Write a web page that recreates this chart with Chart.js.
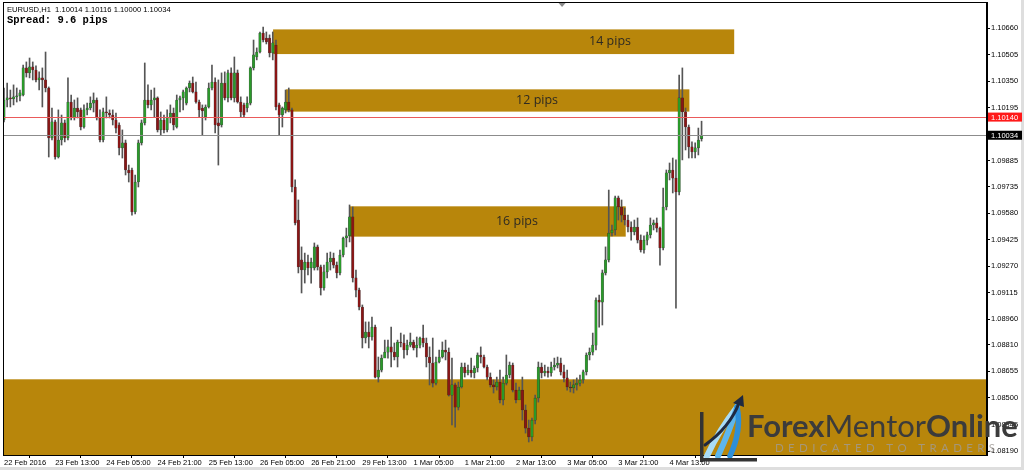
<!DOCTYPE html>
<html><head><meta charset="utf-8">
<script src="https://cdn.jsdelivr.net/npm/chart.js@4.4.1/dist/chart.umd.min.js"></script>
<style>html,body{margin:0;padding:0;background:#fff;overflow:hidden}canvas{display:block}</style>
</head><body>
<canvas id="c" width="1024" height="470"></canvas>
<script>
const symbol = 'EURUSD', timeframe = 'H1', spreadPips = 9.6;

const opens = [
1.10123,1.10240,1.10252,1.10246,1.10258,1.10263,1.10269,1.10427,1.10398,1.10433,
1.10415,1.10357,1.10369,1.10357,1.10310,1.10018,1.10112,1.09907,1.10006,1.10106,
1.10018,1.10228,1.10135,1.10193,1.10182,1.10082,1.10182,1.10193,1.10222,1.10240,
1.10135,1.10006,1.10170,1.10164,1.10152,1.10123,1.10094,1.09960,1.09989,1.09831,
1.09831,1.09586,1.09761,1.09989,1.10106,1.10240,1.10211,1.10240,1.10252,1.10065,
1.10123,1.10065,1.10135,1.10164,1.10082,1.10240,1.10252,1.10222,1.10310,1.10339,
1.10287,1.10228,1.10193,1.10141,1.10199,1.10310,1.10345,1.10106,1.10094,1.10339,
1.10252,1.10398,1.10252,1.10398,1.10228,1.10211,1.10193,1.10222,1.10427,1.10491,
1.10520,1.10631,1.10602,1.10602,1.10514,1.10561,1.10211,1.10152,1.10182,1.10228,
1.10182,1.09732,1.09539,1.09306,1.09247,1.09294,1.09259,1.09259,1.09382,1.09265,
1.09142,1.09236,1.09294,1.09317,1.09276,1.09230,1.09335,1.09434,1.09446,1.09557,
1.09201,1.09130,1.09031,1.08850,1.08885,1.08856,1.08914,1.08622,1.08663,1.08733,
1.08768,1.08798,1.08768,1.08739,1.08827,1.08821,1.08780,1.08809,1.08827,1.08792,
1.08809,1.08850,1.08821,1.08739,1.08704,1.08587,1.08710,1.08739,1.08780,1.08768,
1.08517,1.08576,1.08447,1.08564,1.08681,1.08646,1.08663,1.08646,1.08675,1.08751,
1.08739,1.08681,1.08622,1.08576,1.08564,1.08593,1.08488,1.08587,1.08634,1.08692,
1.08546,1.08488,1.08546,1.08430,1.08324,1.08272,1.08371,1.08500,1.08681,1.08646,
1.08657,1.08646,1.08681,1.08692,1.08704,1.08652,1.08617,1.08564,1.08558,1.08576,
1.08587,1.08605,1.08652,1.08751,1.08768,1.08809,1.09072,1.09060,1.09230,1.09306,
1.09463,1.09481,1.09668,1.09615,1.09568,1.09539,1.09498,1.09469,1.09498,1.09422,
1.09364,1.09422,1.09452,1.09510,1.09522,1.09492,1.09376,1.09615,1.09814,1.09831,
1.09784,1.09703,1.10252,1.10170,1.10082,1.09966,1.09936,1.09960,1.10014];

const highs = [
1.10310,1.10339,1.10298,1.10328,1.10310,1.10298,1.10444,1.10462,1.10485,1.10462,
1.10439,1.10404,1.10427,1.10520,1.10316,1.10193,1.10123,1.10182,1.10152,1.10123,
1.10369,1.10269,1.10240,1.10252,1.10193,1.10211,1.10222,1.10258,1.10281,1.10252,
1.10182,1.10193,1.10258,1.10182,1.10182,1.10164,1.10106,1.10065,1.10006,1.09860,
1.09843,1.09802,1.10006,1.10123,1.10456,1.10328,1.10298,1.10310,1.10258,1.10170,
1.10152,1.10182,1.10211,1.10193,1.10269,1.10263,1.10298,1.10316,1.10351,1.10374,
1.10345,1.10240,1.10211,1.10211,1.10339,1.10444,1.10369,1.10357,1.10398,1.10404,
1.10415,1.10427,1.10491,1.10415,1.10258,1.10222,1.10258,1.10433,1.10590,1.10544,
1.10637,1.10666,1.10637,1.10620,1.10637,1.10590,1.10222,1.10199,1.10298,1.10310,
1.10193,1.09773,1.09656,1.09382,1.09346,1.09335,1.09317,1.09405,1.09393,1.09276,
1.09276,1.09346,1.09352,1.09346,1.09294,1.09364,1.09440,1.09492,1.09627,1.09615,
1.09247,1.09142,1.09043,1.08944,1.08944,1.08973,1.08926,1.08739,1.08751,1.08838,
1.08838,1.08914,1.08821,1.08838,1.08879,1.08868,1.08838,1.08879,1.08838,1.08856,
1.08856,1.08926,1.08850,1.08798,1.08850,1.08739,1.08780,1.08827,1.08838,1.08792,
1.08733,1.08587,1.08593,1.08704,1.08704,1.08692,1.08733,1.08687,1.08763,1.08798,
1.08751,1.08692,1.08646,1.08605,1.08622,1.08663,1.08622,1.08751,1.08710,1.08704,
1.08587,1.08564,1.08622,1.08459,1.08371,1.08383,1.08517,1.08710,1.08704,1.08692,
1.08681,1.08710,1.08733,1.08739,1.08733,1.08692,1.08663,1.08593,1.08605,1.08617,
1.08634,1.08663,1.08763,1.08792,1.08879,1.09084,1.09101,1.09247,1.09382,1.09714,
1.09510,1.09679,1.09679,1.09656,1.09609,1.09568,1.09528,1.09539,1.09551,1.09452,
1.09446,1.09469,1.09551,1.09539,1.09551,1.09498,1.09726,1.09831,1.09872,1.09901,
1.09890,1.10386,1.10427,1.10193,1.10094,1.09995,1.09989,1.10076,1.10116];

const lows = [
1.10112,1.10199,1.10199,1.10211,1.10228,1.10234,1.10263,1.10374,1.10369,1.10357,
1.10345,1.10298,1.10199,1.10287,1.09907,1.10006,1.09895,1.09901,1.09977,1.09995,
1.10006,1.10123,1.10123,1.10135,1.10065,1.10076,1.10152,1.10182,1.10170,1.10123,
1.09995,1.09995,1.10135,1.10135,1.10094,1.10047,1.09919,1.09901,1.09802,1.09761,
1.09568,1.09574,1.09732,1.09977,1.10094,1.10193,1.10182,1.10141,1.10053,1.10036,
1.10047,1.10053,1.10106,1.10065,1.10076,1.10170,1.10182,1.10211,1.10287,1.10281,
1.10222,1.10141,1.10036,1.10123,1.10193,1.10298,1.10047,1.09860,1.10082,1.10240,
1.10228,1.10240,1.10228,1.10222,1.10141,1.10141,1.10170,1.10211,1.10415,1.10474,
1.10514,1.10579,1.10567,1.10491,1.10474,1.10182,1.10036,1.10082,1.10164,1.10170,
1.09703,1.09510,1.09230,1.09113,1.09171,1.09218,1.09171,1.09247,1.09247,1.09101,
1.09130,1.09201,1.09247,1.09259,1.09201,1.09218,1.09323,1.09382,1.09411,1.09177,
1.09090,1.09014,1.08792,1.08821,1.08792,1.08838,1.08617,1.08593,1.08652,1.08739,
1.08733,1.08681,1.08722,1.08681,1.08798,1.08733,1.08751,1.08798,1.08780,1.08739,
1.08792,1.08798,1.08681,1.08576,1.08564,1.08576,1.08704,1.08733,1.08722,1.08511,
1.08342,1.08330,1.08430,1.08558,1.08622,1.08634,1.08622,1.08617,1.08652,1.08704,
1.08675,1.08605,1.08564,1.08529,1.08546,1.08471,1.08459,1.08576,1.08617,1.08535,
1.08471,1.08506,1.08371,1.08295,1.08243,1.08249,1.08348,1.08476,1.08617,1.08628,
1.08622,1.08628,1.08663,1.08675,1.08634,1.08593,1.08546,1.08535,1.08529,1.08546,
1.08570,1.08587,1.08634,1.08722,1.08751,1.08780,1.08914,1.08926,1.09218,1.09294,
1.09446,1.09452,1.09539,1.09528,1.09510,1.09469,1.09422,1.09452,1.09405,1.09352,
1.09346,1.09393,1.09434,1.09481,1.09469,1.09276,1.09364,1.09598,1.09773,1.09697,
1.09025,1.09685,1.09890,1.09948,1.09901,1.09901,1.09901,1.09919,1.10000];

const closes = [
1.10240,1.10252,1.10246,1.10258,1.10263,1.10281,1.10427,1.10398,1.10433,1.10415,
1.10357,1.10369,1.10357,1.10310,1.10018,1.10112,1.09907,1.10006,1.10106,1.10018,
1.10228,1.10135,1.10193,1.10170,1.10082,1.10182,1.10193,1.10222,1.10240,1.10135,
1.10006,1.10170,1.10164,1.10152,1.10123,1.10076,1.09960,1.09989,1.09831,1.09814,
1.09586,1.09761,1.09989,1.10106,1.10240,1.10211,1.10240,1.10252,1.10065,1.10123,
1.10065,1.10135,1.10164,1.10094,1.10240,1.10252,1.10287,1.10310,1.10339,1.10287,
1.10228,1.10182,1.10176,1.10199,1.10310,1.10345,1.10094,1.10088,1.10339,1.10252,
1.10398,1.10252,1.10398,1.10228,1.10170,1.10152,1.10222,1.10427,1.10503,1.10520,
1.10631,1.10590,1.10579,1.10514,1.10573,1.10199,1.10152,1.10193,1.10228,1.10182,
1.09732,1.09522,1.09265,1.09247,1.09294,1.09259,1.09294,1.09382,1.09265,1.09142,
1.09236,1.09294,1.09317,1.09276,1.09230,1.09335,1.09434,1.09446,1.09557,1.09201,
1.09130,1.09031,1.08850,1.08885,1.08856,1.08914,1.08622,1.08663,1.08733,1.08768,
1.08798,1.08768,1.08739,1.08827,1.08821,1.08780,1.08809,1.08827,1.08792,1.08809,
1.08850,1.08821,1.08739,1.08704,1.08587,1.08710,1.08739,1.08780,1.08768,1.08517,
1.08576,1.08447,1.08564,1.08681,1.08646,1.08663,1.08646,1.08675,1.08751,1.08739,
1.08681,1.08622,1.08576,1.08564,1.08593,1.08488,1.08587,1.08634,1.08692,1.08546,
1.08488,1.08546,1.08430,1.08324,1.08272,1.08371,1.08500,1.08681,1.08646,1.08657,
1.08646,1.08681,1.08692,1.08704,1.08652,1.08617,1.08564,1.08558,1.08576,1.08587,
1.08605,1.08652,1.08751,1.08768,1.08809,1.09072,1.09060,1.09230,1.09306,1.09463,
1.09481,1.09668,1.09615,1.09568,1.09539,1.09498,1.09469,1.09498,1.09422,1.09364,
1.09422,1.09452,1.09510,1.09522,1.09492,1.09376,1.09615,1.09814,1.09831,1.09784,
1.09703,1.10252,1.10170,1.10082,1.09966,1.09936,1.09960,1.10006,1.10034];

const xLabels = ['22 Feb 2016','23 Feb 13:00','24 Feb 05:00','24 Feb 21:00','25 Feb 13:00','26 Feb 05:00','26 Feb 21:00','29 Feb 13:00','1 Mar 05:00','1 Mar 21:00','2 Mar 13:00','3 Mar 05:00','3 Mar 21:00','4 Mar 13:00'];
const xLabelBars = [0,16,32,48,64,80,96,112,128,144,160,176,192,208];
const yTickValues = [1.10660,1.10505,1.10350,1.10195,1.10040,1.09885,1.09735,1.09580,1.09425,1.09270,1.09115,1.08960,1.08810,1.08655,1.08500,1.08345,1.08190];

const zoneLabels = ['14 pips','12 pips','16 pips',''];
const zoneStart  = [84.1, 88.1, 108.1, -0.3];
const zoneEnd    = [228.2, 214.2, 194.3, 307.2];
const zoneTop    = [1.10652, 1.10302, 1.09619, 1.08609];
const zoneBottom = [1.10508, 1.10172, 1.09442, 1.08167];
const zoneLabelBar = [189.4, 166.6, 160.3];
const redLevel = 1.10140;
const shiftBar = 174.4;

const xMin = -0.3, xMax = 307.2, yMin = 1.08167, yMax = 1.10812;
const GOLD = '#b8860b';
const n = closes.length;
const idx = Array.from({length: n}, (_, i) => i);
const bodyColors = idx.map(i => closes[i] >= opens[i] ? '#2a9a2a' : '#8a1515');

const bgPlugin = {
  id: 'bg',
  beforeDraw(chart) {
    const c = chart.ctx;
    c.save(); c.fillStyle = '#fff'; c.fillRect(0, 0, chart.width, chart.height);
    c.fillStyle = '#dedede';
    c.fillRect(0, chart.height - 3, chart.width, 3);
    c.fillRect(chart.width - 3, 0, 3, chart.height);
    c.restore();
  },
  beforeDatasetsDraw(chart) {
    const c = chart.ctx, x = chart.scales.x, y = chart.scales.y, a = chart.chartArea;
    c.save();
    c.beginPath(); c.rect(a.left, a.top, a.right - a.left, a.bottom - a.top); c.clip();
    for (let k = 0; k < zoneStart.length; k++) {
      const x0 = x.getPixelForValue(zoneStart[k]), x1 = x.getPixelForValue(zoneEnd[k]);
      const y0 = y.getPixelForValue(zoneTop[k]), y1 = y.getPixelForValue(zoneBottom[k]);
      c.fillStyle = GOLD;
      c.fillRect(x0, y0, x1 - x0, y1 - y0);
    }
    c.font = '12.5px "Open Sans"';
    c.fillStyle = '#2e2a22';
    c.textAlign = 'center'; c.textBaseline = 'middle';
    for (let k = 0; k < zoneLabelBar.length; k++) {
      const px = x.getPixelForValue(zoneLabelBar[k]);
      const py = y.getPixelForValue((zoneTop[k] + zoneBottom[k]) / 2);
      c.fillText(zoneLabels[k], px, py);
    }
    c.restore();
  },
  afterDatasetsDraw(chart) {
    const c = chart.ctx, y = chart.scales.y, a = chart.chartArea;
    c.save();
    c.lineWidth = 1;
    const ry = Math.round(y.getPixelForValue(redLevel)) + 0.5;
    c.strokeStyle = '#ea5a5a';
    c.beginPath(); c.moveTo(a.left, ry); c.lineTo(a.right, ry); c.stroke();
    const by = Math.round(y.getPixelForValue(closes[n - 1])) + 0.5;
    c.strokeStyle = '#8c8c8c';
    c.beginPath(); c.moveTo(a.left, by); c.lineTo(a.right, by); c.stroke();
    c.restore();
  },
  afterDraw(chart) {
    const c = chart.ctx, x = chart.scales.x, y = chart.scales.y, a = chart.chartArea;
    c.save();
    c.strokeStyle = '#000'; c.lineWidth = 1;
    c.strokeRect(a.left + 0.5, a.top + 0.5, a.right - a.left - 1, a.bottom - a.top);
    const tag = (val, bg) => {
      const py = y.getPixelForValue(val);
      c.fillStyle = bg;
      c.fillRect(a.right + 1, py - 4.5, 34, 9);
      c.fillStyle = '#fff';
      c.font = '7.5px "Liberation Sans"';
      c.textAlign = 'left'; c.textBaseline = 'middle';
      c.fillText(val.toFixed(5), a.right + 4, py + 0.5);
    };
    tag(redLevel, '#ff1a1a');
    tag(closes[n - 1], '#000');
    c.fillStyle = '#000';
    c.textAlign = 'left'; c.textBaseline = 'middle';
    c.font = '7.6px "Liberation Sans"';
    const L = n - 1;
    c.fillText(symbol + ',' + timeframe + '  ' + opens[L].toFixed(5) + ' ' + highs[L].toFixed(5) + ' ' + lows[L].toFixed(5) + ' ' + closes[L].toFixed(5), a.left + 4, 10);
    c.font = 'bold 10.5px "Liberation Mono"';
    c.fillText('Spread: ' + spreadPips + ' pips', a.left + 4, 20);
    const sx = x.getPixelForValue(shiftBar);
    c.fillStyle = '#8a8a8a';
    c.beginPath(); c.moveTo(sx - 3.5, a.top + 1); c.lineTo(sx + 3.5, a.top + 1); c.lineTo(sx, a.top + 5); c.closePath(); c.fill();
    // logo
    const ox = a.right - 287, oy = a.bottom;
    c.lineCap = 'round';
    const sw = [['#a9dcf6', 7, 6], ['#5db6ec', 18, 6], ['#2e8fd8', 30, 5.5]];
    for (const [col, dx, w] of sw) {
      c.strokeStyle = col; c.lineWidth = w;
      c.beginPath(); c.moveTo(ox + dx, oy + 1); c.quadraticCurveTo(ox + dx + 12, oy - 25, ox + 37, oy - 48); c.stroke();
    }
    c.strokeStyle = '#1f2940'; c.lineWidth = 3;
    c.beginPath(); c.moveTo(ox + 5, oy - 10); c.quadraticCurveTo(ox + 30, oy - 28, ox + 39, oy - 52); c.stroke();
    c.fillStyle = '#1f2940';
    c.beginPath(); c.moveTo(ox + 43, oy - 60); c.lineTo(ox + 33, oy - 52); c.lineTo(ox + 44, oy - 48); c.closePath(); c.fill();
    c.fillStyle = '#333';
    c.fillRect(ox, oy - 43, 3.5, 50);
    c.fillRect(ox, oy + 3, 57, 3.5);
    const parts = [['Forex', 'bold'], ['Mentor', 'normal'], ['Online', 'bold']];
    let total = 0;
    for (const [t, w] of parts) { c.font = w + ' 100px Lato'; total += c.measureText(t).width; }
    const fs = 100 * 271 / total;
    let tx = ox + 47;
    c.fillStyle = '#3b3b3b'; c.textBaseline = 'alphabetic'; c.textAlign = 'left';
    for (const [t, w] of parts) { c.font = w + ' ' + fs + 'px Lato'; c.fillText(t, tx, oy - 18); tx += c.measureText(t).width; }
    const sub = 'DEDICATED TO TRADERS';
    c.font = '11.5px Lato';
    c.fillStyle = 'rgba(160,155,150,0.8)';
    let cw = 0; for (const ch of sub) cw += c.measureText(ch).width;
    const gap = (220 - cw) / (sub.length - 1);
    let sxx = ox + 75;
    c.textBaseline = 'middle';
    for (const ch of sub) { c.fillText(ch, sxx, oy - 7); sxx += c.measureText(ch).width + gap; }
    c.restore();
  }
};

new Chart(document.getElementById('c'), {
  type: 'bar',
  data: {
    datasets: [
      { label: 'wick', data: idx.map(i => ({x: i, y: [lows[i], highs[i]]})), backgroundColor: '#555', barThickness: 1, grouped: false, order: 1, borderWidth: 0 },
      { label: 'body', data: idx.map(i => ({x: i, y: [opens[i], closes[i]]})), backgroundColor: bodyColors, borderColor: 'rgba(0,0,0,0.55)', borderWidth: 0.5, borderSkipped: false, barThickness: 2.6, minBarLength: 1, grouped: false, order: 0 }
    ]
  },
  options: {
    responsive: false, animation: false,
    layout: { padding: { left: 3, top: 2, right: 0, bottom: 0 } },
    plugins: { legend: { display: false }, tooltip: { enabled: false } },
    scales: {
      x: {
        type: 'linear', min: xMin, max: xMax, offset: false,
        afterBuildTicks: s => { s.ticks = xLabelBars.map(v => ({ value: v })); },
        afterFit: s => { s.height = 15; s.paddingLeft = 0; s.paddingRight = 0; },
        ticks: { autoSkip: false, maxRotation: 0, minRotation: 0, align: 'start', padding: 0, color: '#000', font: { family: 'Liberation Sans', size: 7.5 }, callback: (v, i) => xLabels[i] },
        grid: { drawOnChartArea: false, drawTicks: true, tickLength: 3, color: '#000' },
        border: { display: true, color: '#000' }
      },
      y: {
        type: 'linear', position: 'right', min: yMin, max: yMax,
        afterBuildTicks: s => { s.ticks = yTickValues.map(v => ({ value: v })); },
        afterFit: s => { s.width = 37; s.paddingTop = 0; s.paddingBottom = 0; },
        ticks: { padding: 1, color: '#000', font: { family: 'Liberation Sans', size: 7.5 }, callback: v => Number(v).toFixed(5) },
        grid: { drawOnChartArea: false, drawTicks: true, tickLength: 3, color: '#000' },
        border: { display: true, color: '#000' }
      }
    }
  },
  plugins: [bgPlugin]
});
</script>
</body></html>
